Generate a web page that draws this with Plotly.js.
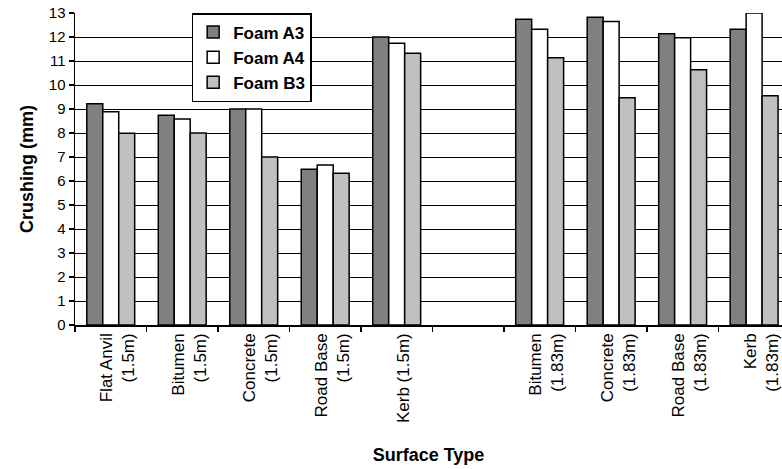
<!DOCTYPE html>
<html>
<head>
<meta charset="utf-8">
<script src="https://cdn.plot.ly/plotly-3.0.1.min.js"></script>
<style>html,body{margin:0;padding:0;background:#fff;}#chart{width:782px;height:469px;}</style>
</head>
<body>
<div id="chart"></div>
<script>
var categories = ["Flat Anvil<br>(1.5m)", "Bitumen<br>(1.5m)", "Concrete<br>(1.5m)", "Road Base<br>(1.5m)", "Kerb (1.5m)", " ", "Bitumen<br>(1.83m)", "Concrete<br>(1.83m)", "Road Base<br>(1.83m)", "Kerb<br>(1.83m)"];
var foamA3 = [9.22, 8.74, 9.0, 6.49, 12.0, null, 12.74, 12.82, 12.14, 12.32];
var foamA4 = [8.89, 8.58, 9.0, 6.67, 11.74, null, 12.32, 12.65, 11.97, 13.0];
var foamB3 = [7.99, 8.0, 7.0, 6.32, 11.32, null, 11.14, 9.47, 10.64, 9.55];
var seriesNames = ["Foam A3", "Foam A4", "Foam B3"];
var yTicks = [0,1,2,3,4,5,6,7,8,9,10,11,12,13];

var FONT = "'Liberation Sans', Arial, sans-serif";
var colors = ["#808080", "#ffffff", "#c0c0c0"];
var data = [foamA3, foamA4, foamB3].map(function (vals, i) {
  return {
    type: "bar", x: categories, y: vals, name: seriesNames[i],
    marker: {color: colors[i], line: {color: "#000", width: 1.5}}
  };
});

var layout = {
  width: 782, height: 469,
  margin: {l: 75, r: 0, t: 13, b: 144},
  paper_bgcolor: "#fff", plot_bgcolor: "#fff",
  font: {family: FONT, color: "#000", size: 15},
  barmode: "group", bargap: 0.33, bargroupgap: 0,
  showlegend: true,
  legend: {
    x: 0.165, y: 1, xanchor: "left", yanchor: "top",
    bgcolor: "#fff", bordercolor: "#000", borderwidth: 1.5,
    font: {size: 17, family: FONT, weight: "bold"},
    tracegroupgap: 0
  },
  xaxis: {
    type: "category", range: [-0.5, 9.39],
    tickson: "boundaries", ticks: "outside", ticklen: 5, tickcolor: "#000", tickwidth: 1.5,
    tickangle: -90, ticklabelshift: 7, showline: true, linecolor: "#000", linewidth: 1.5,
    showgrid: false, zeroline: false, fixedrange: true,
    tickfont: {size: 17},
    title: {text: "<b>Surface Type</b>", font: {size: 18}, standoff: 26}
  },
  yaxis: {
    range: [0, 13], tickvals: yTicks, ticks: "outside", ticklen: 5, tickcolor: "#000", tickwidth: 1.5,
    showline: true, linecolor: "#000", linewidth: 1.5,
    showgrid: true, gridcolor: "#000", gridwidth: 1, zeroline: false,
    tickfont: {size: 15},
    title: {text: "<b>Crushing (mm)</b>", font: {size: 18}, standoff: 10}
  }
};

Plotly.newPlot("chart", data, layout, {displayModeBar: false, staticPlot: true});
</script>
</body>
</html>
